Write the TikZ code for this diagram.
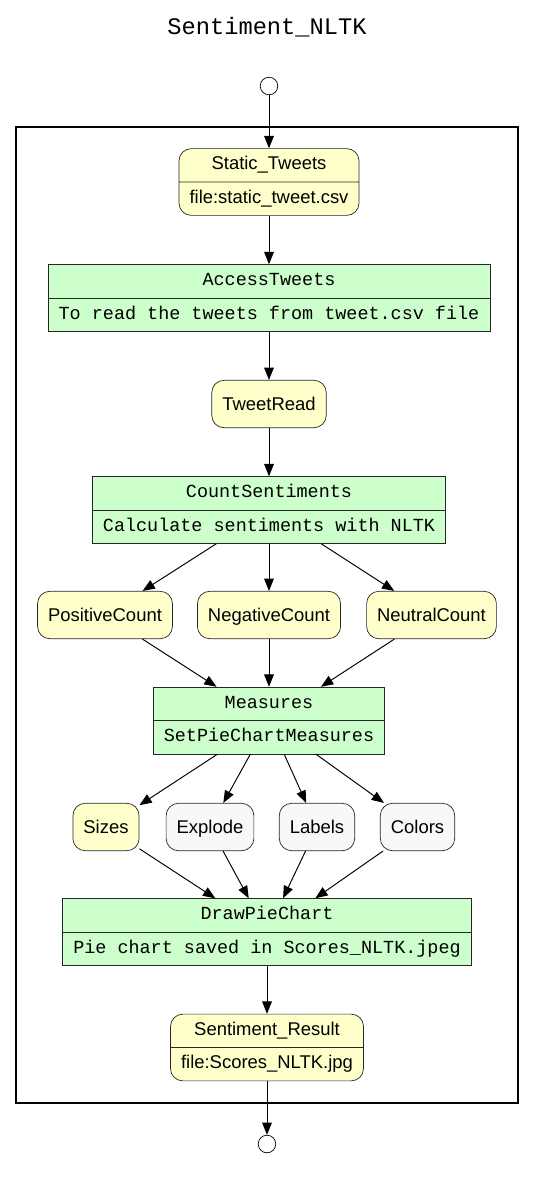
\documentclass[tikz,border=0pt]{standalone}
\usepackage{fontspec}
\setmainfont{Liberation Sans}
\setmonofont{Liberation Mono}
\usepackage{tikz}
\usetikzlibrary{arrows.meta,shapes.multipart}
\definecolor{datayellow}{HTML}{FFFFCC}
\definecolor{procgreen}{HTML}{CCFFCC}
\definecolor{paramwhite}{HTML}{F8F8F8}

\begin{document}
\begin{tikzpicture}[
    x=0.02cm, y=-0.02cm,
    data/.style={draw=black!85, fill=datayellow, rounded corners=7pt, inner xsep=6pt, minimum height=27pt, text height=8pt, text depth=1pt, font=\fontsize{10.5}{13}\selectfont},
    datafile/.style={draw=black!85, fill=datayellow, rounded corners=7pt, rectangle split, rectangle split parts=2, inner xsep=6pt, inner ysep=2.8pt, font=\fontsize{10.5}{13}\selectfont, execute at begin node=\strut},
    param/.style={data, fill=paramwhite},
    process/.style={draw=black!85, fill=procgreen, rectangle split, rectangle split parts=2, inner xsep=6pt, inner ysep=2.8pt, font=\ttfamily\fontsize{10.5}{13}\selectfont, execute at begin node=\strut},
    terminal/.style={draw, circle, fill=white, minimum size=10pt, inner sep=0pt},
    link/.style={-{Triangle[length=7pt, width=5.5pt]}, line width=0.55pt}
]
    \useasboundingbox (0,0) rectangle (535,1191);
    \node[font=\ttfamily\fontsize{13.5}{16}\selectfont] (title) at (267,27) {Sentiment\_NLTK};
    \draw[line width=1.1pt] (16,127) rectangle (518,1103);

    \node[terminal] (start) at (269,86) {};
    \node[datafile] (static) at (269,182) {Static\_Tweets \nodepart{two} file:static\_tweet.csv};
    \node[process] (access) at (269,298) {AccessTweets \nodepart{two} To read the tweets from tweet.csv file};
    \node[data] (tweetread) at (269,404) {TweetRead};
    \node[process] (count) at (269,510) {CountSentiments \nodepart{two} Calculate sentiments with NLTK};
    \node[data] (positive) at (105,615) {PositiveCount};
    \node[data] (negative) at (269,615) {NegativeCount};
    \node[data] (neutral) at (431.5,615) {NeutralCount};
    \node[process] (measures) at (269,720.5) {Measures \nodepart{two} SetPieChartMeasures};
    \node[data] (sizes) at (106,827) {Sizes};
    \node[param] (explode) at (210,827) {Explode};
    \node[param] (labels) at (317,827) {Labels};
    \node[param] (colors) at (417.5,827) {Colors};
    \node[process] (drawpie) at (267,932) {DrawPieChart \nodepart{two} Pie chart saved in Scores\_NLTK.jpeg};
    \node[datafile] (result) at (267,1047.5) {Sentiment\_Result \nodepart{two} file:Scores\_NLTK.jpg};
    \node[terminal] (stop) at (267,1144) {};

    \draw[link] (start) -- (static);
    \draw[link] (static) -- (access);
    \draw[link] (access) -- (tweetread);
    \draw[link] (tweetread) -- (count);
    \draw[link] (count) -- (positive);
    \draw[link] (count) -- (negative);
    \draw[link] (count) -- (neutral);
    \draw[link] (positive) -- (measures);
    \draw[link] (negative) -- (measures);
    \draw[link] (neutral) -- (measures);
    \draw[link] (measures) -- (sizes);
    \draw[link] (measures) -- (explode);
    \draw[link] (measures) -- (labels);
    \draw[link] (measures) -- (colors);
    \draw[link] (sizes) -- (drawpie);
    \draw[link] (explode) -- (drawpie);
    \draw[link] (labels) -- (drawpie);
    \draw[link] (colors) -- (drawpie);
    \draw[link] (drawpie) -- (result);
    \draw[link] (result) -- (stop);
\end{tikzpicture}
\end{document}
